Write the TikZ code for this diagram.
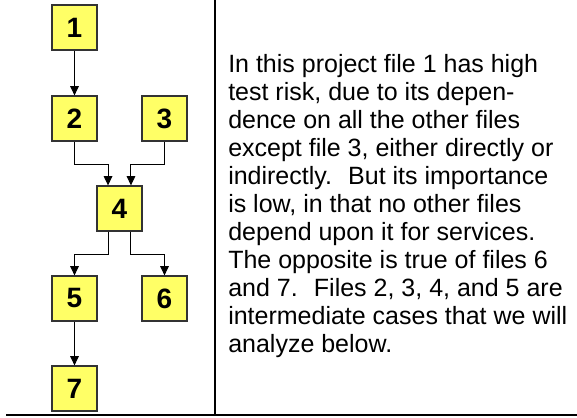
\documentclass[tikz,border=0pt]{standalone}
\usepackage{fontspec}
\setmainfont{Liberation Sans}
\usetikzlibrary{arrows.meta}
\definecolor{fileyellow}{RGB}{255,255,102}

\begin{document}
\begin{tikzpicture}[x=0.75pt,y=-0.75pt,
  filebox/.style={draw=black!80,line width=0.9pt,fill=fileyellow,minimum size=33.75pt,
    inner sep=0pt,font=\fontsize{21}{21}\selectfont\bfseries},
  dep/.style={-{Triangle[width=6.5pt,length=7pt]},line width=0.75pt}]
  \useasboundingbox (0,0) rectangle (577,417);
  % the seven files
  \foreach \j/\x/\y in {1/74.5/27.5,2/74.5/118.5,3/164.5/118.5,4/119.5/208.5,
                        5/74.5/298.5,6/164.5/298.5,7/74.5/388.5}
    \node[filebox] (f\j) at (\x,\y) {\j};
  % dependencies
  \draw[dep] (f1) -- (f2);
  \draw[dep] (f5) -- (f7);
  \draw[dep] (f2.south) -- ++(0,22.5) -| ([xshift=-8.6pt]f4.north);
  \draw[dep] (f3.south) -- ++(0,22.5) -| ([xshift=8.6pt]f4.north);
  \draw[dep] ([xshift=-8.6pt]f4.south) -- ++(0,22.5) -| (f5.north);
  \draw[dep] ([xshift=8.6pt]f4.south) -- ++(0,22.5) -| (f6.north);
  % rules
  \draw[line width=1.5pt] (215,0) -- (215,415);
  \draw[line width=1.5pt] (6,415) -- (577,415);
  % the base anchor sits on the last line
  \node[anchor=base west,align=left,inner sep=0pt,font=\fontsize{18.75}{21}\selectfont]
    (note) at (228,352) {In this project file 1 has high\\
    test risk, due to its depen-\\
    dence on all the other files\\
    except file 3, either directly or\\
    indirectly.~ But its importance\\
    is low, in that no other files\\
    depend upon it for services.\\
    The opposite is true of files 6\\
    and 7.~ Files 2, 3, 4, and 5 are\\
    intermediate cases that we will\\
    analyze below.};
\end{tikzpicture}
\end{document}
